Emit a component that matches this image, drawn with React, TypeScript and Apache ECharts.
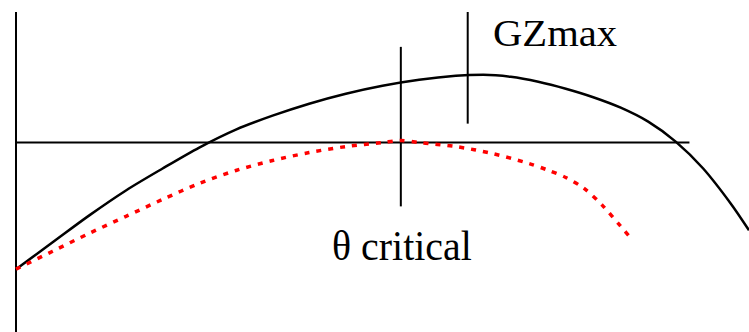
import React, { useEffect, useRef } from "react";
import * as echarts from "echarts";

// Heel angle (deg) and GZ values
const gzAngles = [0, 4, 8, 12, 16, 20, 24, 28, 32, 36, 40, 44, 48, 51, 54, 57, 60, 63, 66, 69, 72, 75, 78, 80];
const gzValues = [-1.27, -1.0, -0.73, -0.48, -0.26, -0.05, 0.13, 0.27, 0.39, 0.49, 0.57, 0.63, 0.67, 0.68, 0.66, 0.61, 0.54, 0.455, 0.35, 0.21, 0.01, -0.26, -0.61, -0.88];

const redAngles = [0, 4, 8, 12, 16, 20, 24, 28, 32, 36, 40, 42, 44, 48, 52, 56, 58, 60, 62, 64, 66, 67.3];
const redValues = [-1.27, -1.09, -0.91, -0.74, -0.57, -0.41, -0.28, -0.18, -0.1, -0.04, 0.0, 0.02, 0.0, -0.04, -0.11, -0.21, -0.275, -0.35, -0.46, -0.63, -0.84, -0.98];

const criticalAngle = 42;
const gzMaxAngle = 49.3;
const axisEndAngle = 73.5;

const labels = ["GZmax", "θ critical"];

export default function App() {
  const ref = useRef<HTMLDivElement>(null);
  useEffect(() => {
    document.body.style.margin = "0";
    const chart = echarts.init(ref.current!, undefined, { renderer: "svg" });
    const black = gzAngles.map((a, i) => [a, gzValues[i]]);
    const red = redAngles.map((a, i) => [a, redValues[i]]);
    const plain = (data: number[][], width = 2) => ({
      type: "line",
      data,
      symbol: "none",
      clip: false,
      silent: true,
      lineStyle: { color: "#000", width },
    });
    chart.setOption({
      animation: false,
      grid: { left: 16, top: 3, width: 733, height: 330 },
      xAxis: { type: "value", min: 0, max: 80, show: false },
      yAxis: { type: "value", min: -1.9, max: 1.4, show: false },
      series: [
        plain([[0, -1.9], [0, 1.31]]),
        plain([[0, 0], [axisEndAngle, 0]]),
        plain([[criticalAngle, 0.96], [criticalAngle, -0.64]]),
        plain([[gzMaxAngle, 1.31], [gzMaxAngle, 0.19]]),
        {
          type: "line",
          data: black,
          smooth: 0.3,
          symbol: "none",
          clip: false,
          lineStyle: { color: "#000", width: 2.5 },
        },
        {
          type: "line",
          data: red,
          smooth: 0.3,
          symbol: "none",
          clip: false,
          lineStyle: { color: "#ff0000", width: 3.5, type: [5, 7] },
        },
      ],
      graphic: [
        {
          type: "text",
          x: 493,
          y: 33,
          scaleX: 1.07,
          style: {
            text: labels[0],
            x: 0,
            y: 0,
            font: '38px "Liberation Serif"',
            fill: "#000",
            align: "left",
            verticalAlign: "middle",
          },
        },
        {
          type: "text",
          x: 332,
          y: 246,
          scaleX: 0.95,
          style: {
            text: labels[1],
            x: 0,
            y: 0,
            font: '42px "Liberation Serif"',
            fill: "#000",
            align: "left",
            verticalAlign: "middle",
          },
        },
      ],
    });
    return () => chart.dispose();
  }, []);
  return <div ref={ref} style={{ width: 749, height: 332 }} />;
}
